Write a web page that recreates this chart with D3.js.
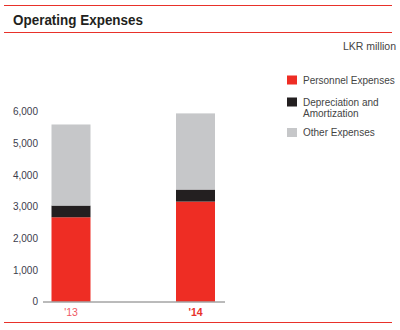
<!DOCTYPE html>
<html>
<head>
<meta charset="utf-8">
<script src="https://cdn.jsdelivr.net/npm/d3@7"></script>
<style>
  body { margin: 0; background: #fff; }
  svg { display: block; font-family: "Liberation Sans", Arial, sans-serif; }
</style>
</head>
<body>
<svg id="chart" width="400" height="330"></svg>
<script>
const years = ["'13", "'14"];
const personnel = [2660, 3155];
const depreciation = [370, 380];
const other = [2560, 2405];
const seriesNames = ["Personnel Expenses", "Depreciation and|Amortization", "Other Expenses"];
const seriesColors = ["#ee2d24", "#231f20", "#c6c7c9"];
const yTicks = [0, 1000, 2000, 3000, 4000, 5000, 6000];

const svg = d3.select("#chart");

// header rules + title
svg.append("line").attr("x1", 4).attr("x2", 392).attr("y1", 5.5).attr("y2", 5.5)
    .attr("stroke", "#e8312a").attr("stroke-width", 1);
svg.append("line").attr("x1", 4).attr("x2", 392).attr("y1", 32.5).attr("y2", 32.5)
    .attr("stroke", "#e8312a").attr("stroke-width", 1);
svg.append("line").attr("x1", 4).attr("x2", 392).attr("y1", 322.5).attr("y2", 322.5)
    .attr("stroke", "#e8312a").attr("stroke-width", 1);

svg.append("text").attr("x", 13).attr("y", 25)
    .attr("font-size", 14.5).attr("font-weight", "bold").attr("fill", "#231f20")
    .attr("textLength", 130).attr("lengthAdjust", "spacingAndGlyphs")
    .text("Operating Expenses");

svg.append("text").attr("x", 396).attr("y", 50).attr("text-anchor", "end")
    .attr("font-size", 10.5).attr("fill", "#444")
    .text("LKR million");

const y = d3.scaleLinear().domain([0, 6000]).range([301.5, 111.5]);
const x = d3.scalePoint().domain(years).range([71, 195.5]);
const barW = 39;

const rows = years.map((yr, i) => ({ year: yr, p: personnel[i], d: depreciation[i], o: other[i] }));
const stacked = d3.stack().keys(["p", "d", "o"])(rows);

svg.append("g").selectAll("g")
    .data(stacked)
    .join("g")
    .attr("fill", (d, i) => seriesColors[i])
    .selectAll("rect")
    .data(d => d)
    .join("rect")
    .attr("x", d => x(d.data.year) - barW / 2)
    .attr("width", barW)
    .attr("y", d => y(d[1]))
    .attr("height", d => y(d[0]) - y(d[1]));

// y axis labels
const yAxis = d3.axisLeft(y).tickValues(yTicks).tickSize(0).tickPadding(0)
    .tickFormat(d3.format(","));
const ya = svg.append("g").attr("transform", "translate(38,0)").call(yAxis);
ya.select(".domain").remove();
ya.selectAll("text").attr("font-size", 10).attr("fill", "#3c3c4c")
    .attr("font-family", "Liberation Sans, Arial, sans-serif");

// baseline
svg.append("line").attr("x1", 43).attr("x2", 225).attr("y1", y(0) + 0.5).attr("y2", y(0) + 0.5)
    .attr("stroke", "#777").attr("stroke-width", 1);

// x labels
svg.append("g").selectAll("text")
    .data(years)
    .join("text")
    .attr("x", d => x(d))
    .attr("y", 315.5)
    .attr("text-anchor", "middle")
    .attr("font-size", 10.5)
    .attr("font-weight", (d, i) => i === years.length - 1 ? "bold" : "normal")
    .attr("fill", (d, i) => i === years.length - 1 ? "#e8312a" : "#ef5a64")
    .text(d => d);

// legend
const legendY = [80, 102, 132.5];
const lg = svg.append("g").selectAll("g")
    .data(seriesNames)
    .join("g")
    .attr("transform", (d, i) => `translate(287,${legendY[i]})`);
lg.append("rect").attr("x", 0).attr("y", -4.5).attr("width", 10).attr("height", 9)
    .attr("fill", (d, i) => seriesColors[i]);
lg.append("text")
    .attr("x", 16).attr("y", 3.5)
    .attr("font-size", 10).attr("fill", "#444")
    .selectAll("tspan")
    .data(d => d.split("|"))
    .join("tspan")
    .attr("x", 16)
    .attr("dy", (d, i) => i === 0 ? 0 : 11.5)
    .text(d => d);
</script>
</body>
</html>
